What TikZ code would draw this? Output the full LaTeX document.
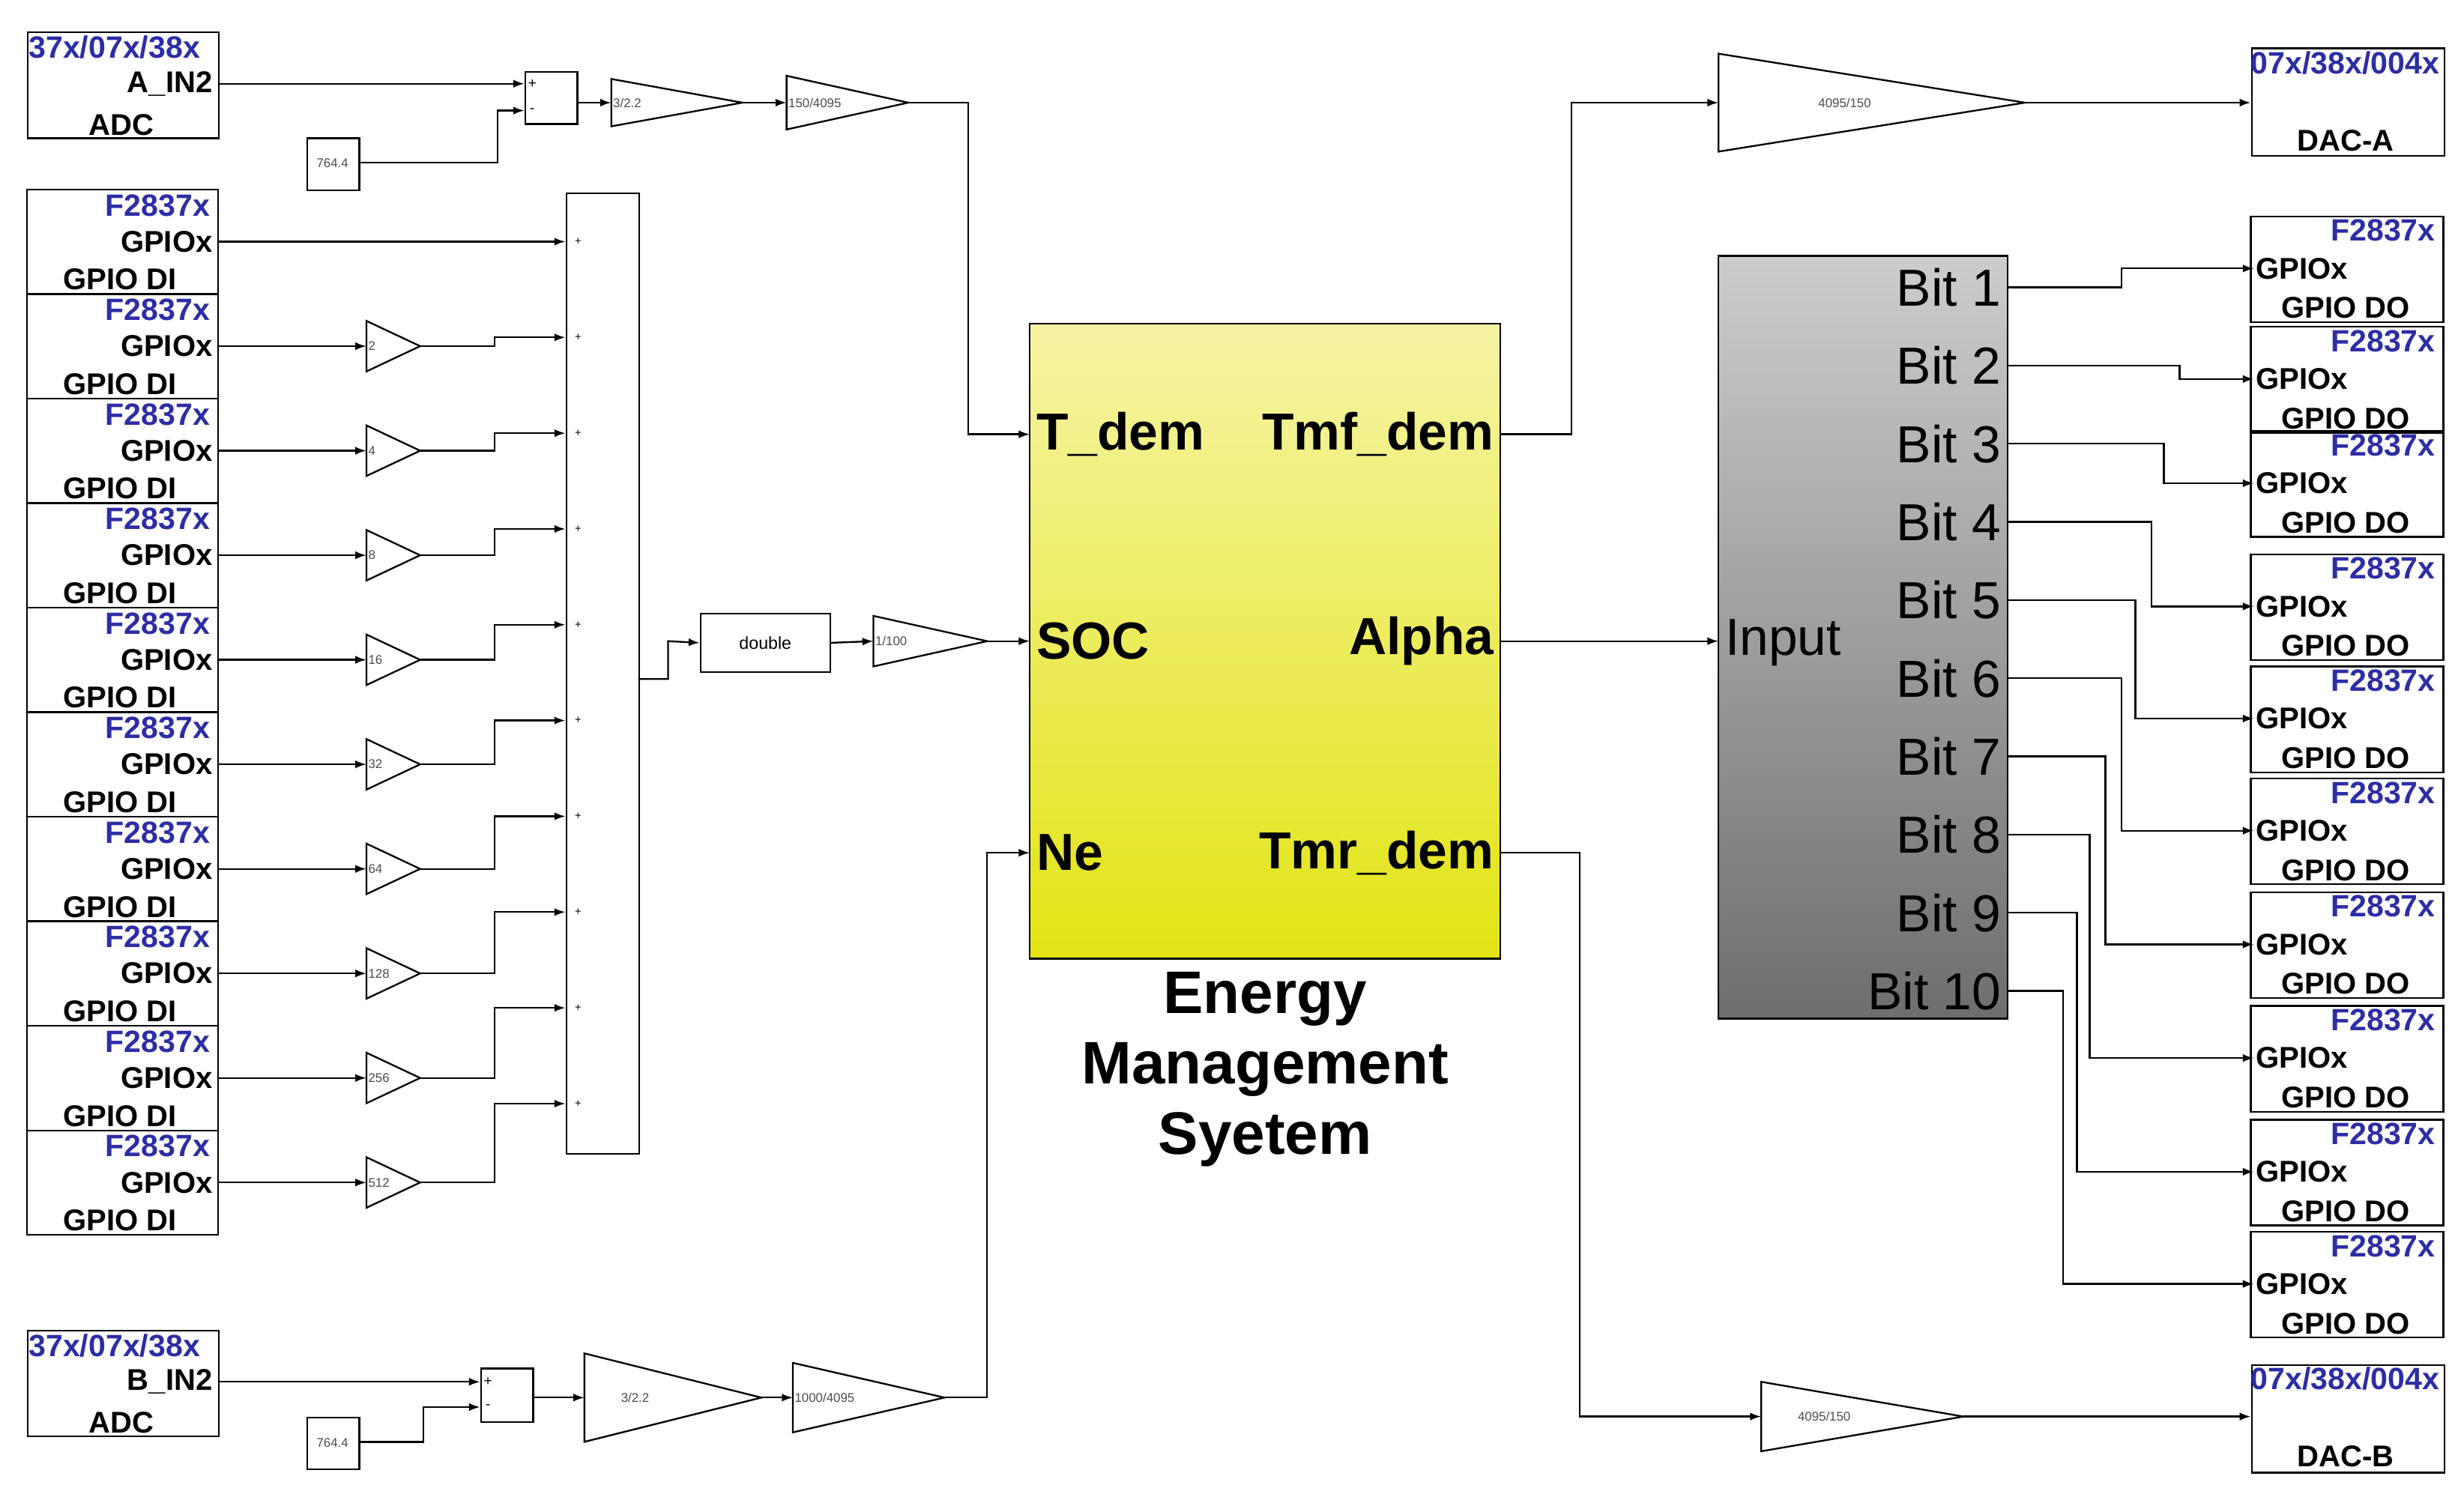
\documentclass[tikz,border=0pt]{standalone}
\usepackage{fontspec}
\setmainfont{Liberation Sans}
\usetikzlibrary{arrows.meta,calc}
\definecolor{tiblue}{RGB}{45,45,165}
\tikzset{
  x=1pt,y=-1pt,
  wire/.style={line width=1.1pt,-{Latex[length=7pt,width=5pt]}},
  ln/.style={line width=1.1pt},
  blk/.style={draw,line width=1.1pt,fill=white},
  blue/.style={text=tiblue,font=\bfseries\fontsize{19.5}{19.5}\selectfont},
  lab/.style={font=\bfseries\fontsize{19}{19}\selectfont},
  small/.style={font=\fontsize{8}{8}\selectfont,text=black!70},
  big/.style={font=\bfseries\fontsize{33}{33}\selectfont},
  bit/.style={font=\fontsize{33}{33}\selectfont,anchor=east},
}
\newcommand\gainblk[6]{% name, x1, x2, yc, half height, label
  \draw[ln,fill=white] (#2,#4-#5) -- (#3,#4) -- (#2,#4+#5) -- cycle;
  \coordinate (#1-in) at (#2,#4);
  \coordinate (#1-out) at (#3,#4);
  \node[small,anchor=west,inner sep=1pt] (#1) at (#2,#4) {#6};}
\begin{document}
\begin{tikzpicture}
\useasboundingbox (0,0) rectangle (1560,947.5);
% ---- ADC A
\node[blk,minimum width=121,minimum height=67,anchor=north west] (adcA) at (17,20) {};
\node[blue,anchor=west,inner sep=1pt] at (17,30) {37x/07x/38x};
\node[lab,anchor=east] (ain) at (138,53) {A\_IN2};
\node[lab] at (77,79) {ADC};
\node[blk,minimum width=33,minimum height=33,anchor=north west] (sumA) at (332,45) {};
\node[font=\fontsize{9}{9}\selectfont] at (337,53) {+};
\node[font=\fontsize{9}{9}\selectfont] at (337,70) {-};
\node[blk,minimum width=33,minimum height=33,anchor=north west] (cA) at (194,87) {};
\node[small] at (210.5,103.5) {764.4};
\gainblk{gA1}{387}{470}{65}{15}{3/2.2}
\gainblk{gA2}{498}{575}{65}{17}{150/4095}
\draw[wire] (ain.east) -- (332,53);
\draw[wire] (227,103) -- (315,103) -- (315,70) -- (332,70);
\draw[wire] (365,65) -- (gA1-in);
\draw[wire] (gA1-out) -- (gA2-in);
% ---- EMS
\shade[top color={rgb,255:red,246;green,244;blue,165},bottom color={rgb,255:red,226;green,228;blue,20}] (652,205) rectangle (950,607);
\draw[ln] (652,205) rectangle (950,607);
\coordinate (Tdem) at (652,275);
\coordinate (SOC) at (652,406);
\coordinate (Ne) at (652,540);
\coordinate (Tmf) at (950,275);
\coordinate (Alpha) at (950,406);
\coordinate (Tmr) at (950,540);
\node[big,anchor=west,inner sep=2pt] at (654,275) {T\_dem};
\node[big,anchor=west,inner sep=2pt] at (654,406) {SOC};
\node[big,anchor=west,inner sep=2pt] at (654,540) {Ne};
\node[big,anchor=east,inner sep=2pt] at (948,275) {Tmf\_dem};
\node[big,anchor=east,inner sep=2pt] at (948,406) {Alpha};
\node[big,anchor=east,inner sep=2pt] at (948,540) {Tmr\_dem};
\node[font=\bfseries\fontsize{38}{44.5}\selectfont,align=center,anchor=north] (ems) at (801,612) {Energy\\Management\\Syetem};
\draw[wire] (gA2-out) -- (613,65) -- (613,275) -- (Tdem);
% ---- GPIO DI boxes
\node[blk,minimum width=46,minimum height=608,anchor=north west] (bus) at (358,122) {};
\foreach \i in {0,...,9}{
  \pgfmathsetmacro\t{120+66.2*\i}
  \pgfmathsetmacro\g{\t+33}
  \pgfmathsetmacro\s{153+60.65*\i}
  \draw[ln] (17,\t) rectangle (138,\t+66.2);
  \node[blue,anchor=east,inner sep=1pt] at (134,\t+10) {F2837x};
  \node[lab,anchor=east] (gi\i) at (138,\g) {GPIOx};
  \node[lab,anchor=west,inner sep=1pt] at (39,\t+57) {GPIO DI};
  \node[font=\fontsize{7}{7}\selectfont] at (366,\s) {+};
}
\draw[wire] (gi0.east) -- (358,153);
\foreach \i/\v in {1/2,2/4,3/8,4/16,5/32,6/64,7/128,8/256,9/512}{
  \pgfmathsetmacro\g{153+66.2*\i}
  \pgfmathsetmacro\s{153+60.65*\i}
  \gainblk{gg\i}{232}{266}{\g}{16}{\v}
  \draw[wire] (gi\i.east) -- (gg\i-in);
  \draw[wire] (gg\i-out) -- (313,\g) -- (313,\s) -- (358,\s);
}
\node[blk,minimum width=82,minimum height=37,anchor=north west,font=\fontsize{11}{11}\selectfont] (dbl) at (443,388) {double};
\gainblk{g100}{553}{625}{406}{16}{1/100}
\draw[wire] (404,430) -- (423,430) -- (423,406) -- (dbl.west);
\draw[wire] (dbl.east) -- (g100-in);
\draw[wire] (g100-out) -- (SOC);
% ---- ADC B
\node[blk,minimum width=121,minimum height=67,anchor=north west] (adcB) at (17,842) {};
\node[blue,anchor=west,inner sep=1pt] at (17,852) {37x/07x/38x};
\node[lab,anchor=east] (bin) at (138,875) {B\_IN2};
\node[lab] at (77,901) {ADC};
\node[blk,minimum width=33,minimum height=34,anchor=north west] (sumB) at (304,866) {};
\node[font=\fontsize{9}{9}\selectfont] at (309,875) {+};
\node[font=\fontsize{9}{9}\selectfont] at (309,891) {-};
\node[blk,minimum width=33,minimum height=33,anchor=north west] (cB) at (194,897) {};
\node[small] at (210.5,913.5) {764.4};
\gainblk{gB1}{370}{482}{885}{28}{\hspace{22pt}3/2.2}
\gainblk{gB2}{502}{598}{885}{22}{1000/4095}
\draw[wire] (bin.east) -- (304,875);
\draw[wire] (227,913) -- (268,913) -- (268,891) -- (304,891);
\draw[wire] (337,885) -- (gB1-in);
\draw[wire] (gB1-out) -- (gB2-in);
\draw[wire] (gB2-out) -- (625,885) -- (625,540) -- (Ne);
% ---- DAC
\gainblk{gDA}{1088}{1282}{65}{31}{\hspace{62pt}4095/150}
\gainblk{gDB}{1115}{1243}{897}{22}{\hspace{22pt}4095/150}
\node[blk,minimum width=122,minimum height=68,anchor=north west] (dacA) at (1425,30) {};
\node[blue,anchor=west,inner sep=1pt] at (1424,40) {07x/38x/004x};
\node[lab] at (1485,89) {DAC-A};
\node[blk,minimum width=122,minimum height=68,anchor=north west] (dacB) at (1425,864) {};
\node[blue,anchor=west,inner sep=1pt] at (1424,873) {07x/38x/004x};
\node[lab] at (1485,922) {DAC-B};
\draw[wire] (Tmf) -- (995,275) -- (995,65) -- (gDA-in);
\draw[wire] (gDA-out) -- (dacA.west |- 0,65);
\draw[wire] (Tmr) -- (1000,540) -- (1000,897) -- (gDB-in);
\draw[wire] (gDB-out) -- (dacB.west |- 0,897);
% ---- Bit splitter
\shade[top color={rgb,255:red,205;green,205;blue,205},bottom color={rgb,255:red,110;green,110;blue,110}] (1088,162) rectangle (1271,645);
\draw[ln] (1088,162) rectangle (1271,645);
\node[font=\fontsize{33}{33}\selectfont,anchor=west,inner sep=2pt] (inp) at (1090,407) {Input};
\draw[wire] (Alpha) -- (1088,406);
\foreach \i/\top/\jog in {1/137/1343,2/207/1380,3/273/1370,4/351/1362,5/422/1352,6/493/1343,7/565/1333,8/637/1323,9/709/1315,10/780/1306}{
  \pgfmathsetmacro\b{182+49.5*(\i-1)}
  \pgfmathsetmacro\gy{\top+33}
  \node[bit,inner sep=2pt] at (1269,\b) {Bit \i};
  \draw[ln] (1425,\top) rectangle (1547,\top+67);
  \node[blue,anchor=east,inner sep=1pt] at (1543,\top+9) {F2837x};
  \node[lab,anchor=west,inner sep=1pt] (go\i) at (1427,\gy) {GPIOx};
  \node[lab] at (1485,\top+58) {GPIO DO};
  \draw[wire] (1271,\b) -- (\jog,\b) -- (\jog,\gy) -- (go\i.west);
}
\end{tikzpicture}
\end{document}
